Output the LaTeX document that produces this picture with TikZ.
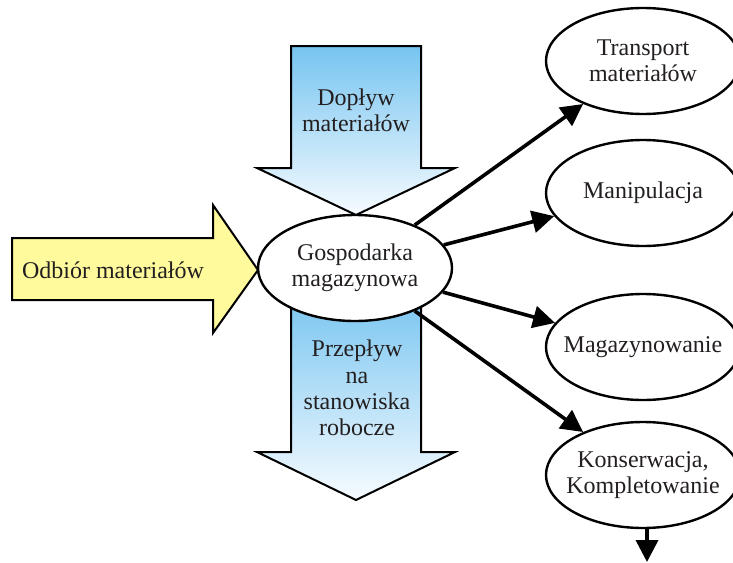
\documentclass[tikz,border=0pt]{standalone}
\usepackage{fontspec}
\setmainfont{Liberation Serif}
\usepackage{xcolor}
\usepackage{tikz}
\usetikzlibrary{shapes.geometric,arrows.meta}
\definecolor{skyblue}{RGB}{118,196,240}
\definecolor{paleblue}{RGB}{246,251,255}
\definecolor{paleyellow}{RGB}{255,250,155}
\definecolor{ink}{RGB}{35,31,32}

\begin{document}
\begin{tikzpicture}[x=0.5pt,y=-0.5pt,
  txt/.style={font=\fontsize{12}{13.2}\selectfont, text=ink, align=center},
  oval/.style={ellipse, draw, line width=1.2pt, fill=white, minimum width=97pt,
    minimum height=53pt, inner xsep=-12pt, inner ysep=0pt, txt},
  link/.style={line width=1.8pt, -{Triangle[length=11pt,width=11pt]}},
  blockarrow/.style={draw, line width=1pt}]
\useasboundingbox (0,0) rectangle (733,562);
% block arrows
\draw[blockarrow, top color=skyblue, bottom color=paleblue] (291,46) -- (421,46) -- (421,168) -- (455,168) -- (356,215) -- (257,168) -- (291,168) -- cycle;
\node[txt] (doplyw) at (356,110) {Dopływ\\materiałów};
\draw[blockarrow, top color=skyblue, bottom color=paleblue] (291,290) -- (421,290) -- (421,452) -- (455,452) -- (356,500) -- (257,452) -- (291,452) -- cycle;
\node[txt] (przeplyw) at (357,388) {Przepływ\\na\\stanowiska\\robocze};
\draw[blockarrow, fill=paleyellow] (12,238) -- (213,238) -- (213,205) -- (258,270) -- (213,333) -- (213,300) -- (12,300) -- cycle;
\node[txt] (odbior) at (113,270) {Odbiór materiałów};
% ellipses
\node[oval] (gosp) at (355,268) {Gospodarka\\magazynowa};
\node[oval] (trans) at (643,61) {Transport\\materiałów};
\node[oval] (manip) at (643,193) {Manipulacja};
\node[oval] (magaz) at (643,347) {Magazynowanie};
\node[oval] (konserw) at (643,475) {Konserwacja,\\Kompletowanie};
% arrows
\draw[link] (gosp) -- (trans);
\draw[link] (gosp) -- (manip);
\draw[link] (gosp) -- (magaz);
\draw[link] (gosp) -- (konserw);
\coordinate (dalej) at (647,562);
\draw[link] (konserw.south -| dalej) -- (dalej);
\end{tikzpicture}
\end{document}
